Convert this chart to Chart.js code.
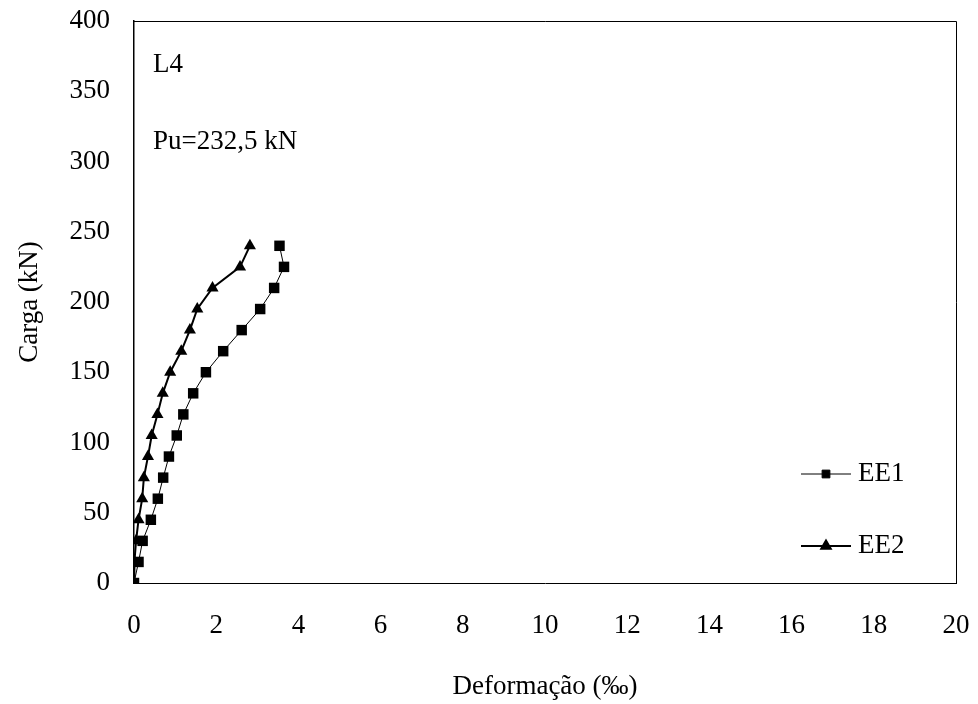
<!DOCTYPE html>
<html>
<head>
<meta charset="utf-8">
<script src="https://cdn.jsdelivr.net/npm/chart.js@4.4.1/dist/chart.umd.min.js"></script>
<style>
  html, body { margin: 0; padding: 0; background: #fff; }
  #wrap { width: 978px; height: 704px; }
</style>
</head>
<body>
<div id="wrap"><canvas id="c" width="978" height="704"></canvas></div>
<script>
// Data
const loads = [0, 15, 30, 45, 60, 75, 90, 105, 120, 135, 150, 165, 180, 195, 210, 225, 240];
const ee1Strain = [0, 0.11, 0.21, 0.41, 0.58, 0.71, 0.85, 1.04, 1.20, 1.44, 1.75, 2.17, 2.62, 3.07, 3.41, 3.65, 3.54];
const ee2Strain = [0, 0.01, 0.05, 0.11, 0.20, 0.24, 0.34, 0.43, 0.57, 0.70, 0.88, 1.15, 1.36, 1.54, 1.91, 2.58, 2.82];
const seriesNames = ['EE1', 'EE2'];
const xTicks = [0, 2, 4, 6, 8, 10, 12, 14, 16, 18, 20];
const yTicks = [0, 50, 100, 150, 200, 250, 300, 350, 400];
const noteLines = ['L4', 'Pu=232,5 kN'];

const FONT = 'Liberation Serif, Times New Roman, serif';
const FS = 27;

function toPoints(xs, ys) { return xs.map((x, i) => ({ x: x, y: ys[i] })); }

const framePlugin = {
  id: 'frame',
  afterDraw(chart) {
    const { ctx, chartArea: a } = chart;
    ctx.save();
    ctx.strokeStyle = '#000';
    ctx.lineWidth = 1;
    ctx.beginPath();
    ctx.moveTo(a.left, a.top + 0.5);
    ctx.lineTo(a.right + 0.5, a.top + 0.5);
    ctx.lineTo(a.right + 0.5, a.bottom);
    ctx.stroke();
    // notes
    ctx.fillStyle = '#000';
    ctx.font = FS + 'px ' + FONT;
    ctx.textBaseline = 'middle';
    ctx.textAlign = 'left';
    ctx.fillText(noteLines[0], a.left + 19, 65);
    ctx.fillText(noteLines[1], a.left + 19, 142);
    // legend
    const items = [
      { y: 474, style: 'rect', r: 5.5, ds: 0 },
      { y: 546, style: 'triangle', r: 5.5, ds: 1 }
    ];
    items.forEach(it => {
      const ds = chart.data.datasets[it.ds];
      ctx.strokeStyle = '#000';
      ctx.lineWidth = ds.borderWidth;
      ctx.beginPath();
      ctx.moveTo(801, it.y);
      ctx.lineTo(851, it.y);
      ctx.stroke();
      Chart.helpers.drawPoint(ctx, { pointStyle: it.style, radius: it.r, borderWidth: 1, rotation: 0 }, 826, it.y);
      ctx.fillStyle = '#000';
      ctx.fillText(seriesNames[it.ds], 858, it.y);
    });
    ctx.restore();
  }
};

new Chart(document.getElementById('c'), {
  type: 'scatter',
  data: {
    datasets: [
      {
        label: seriesNames[0],
        data: toPoints(ee1Strain, loads),
        showLine: true,
        borderColor: '#000',
        backgroundColor: '#000',
        borderWidth: 1,
        pointStyle: 'rect',
        pointRadius: 7.4,
        pointBorderWidth: 0,
        tension: 0
      },
      {
        label: seriesNames[1],
        data: toPoints(ee2Strain, loads),
        showLine: true,
        borderColor: '#000',
        backgroundColor: '#000',
        borderWidth: 2,
        pointStyle: 'triangle',
        pointRadius: 7,
        pointBorderWidth: 0,
        tension: 0
      }
    ]
  },
  options: {
    responsive: false,
    animation: false,
    devicePixelRatio: 1,
    layout: { padding: { top: 21, right: 22, left: 0, bottom: 0 } },
    plugins: { legend: { display: false }, tooltip: { enabled: false } },
    scales: {
      x: {
        type: 'linear',
        min: 0, max: 20,
        afterBuildTicks(s) { s.ticks = xTicks.map(v => ({ value: v })); },
        afterFit(s) { s.height = 121; s.paddingLeft = 0; s.paddingRight = 0; },
        grid: { display: false, drawOnChartArea: false, drawTicks: true, tickLength: 8, tickColor: '#000' },
        border: { display: true, color: '#000', width: 1 },
        ticks: { color: '#000', font: { family: FONT, size: FS }, padding: 19, maxRotation: 0 },
        title: { display: true, text: 'Deformação (‰)', color: '#000', font: { family: FONT, size: FS }, padding: { top: 0, bottom: 1 } }
      },
      y: {
        type: 'linear',
        min: 0, max: 400,
        afterBuildTicks(s) { s.ticks = yTicks.map(v => ({ value: v })); },
        afterFit(s) { s.width = 134; s.paddingTop = 0; s.paddingBottom = 0; },
        grid: { display: false, drawOnChartArea: false, drawTicks: true, tickLength: 8, tickColor: '#000' },
        border: { display: true, color: '#000', width: 1.5 },
        ticks: { color: '#000', font: { family: FONT, size: FS }, padding: 16 },
        title: { display: true, text: 'Carga (kN)', color: '#000', font: { family: FONT, size: FS }, padding: { top: 14, bottom: 0 } }
      }
    }
  },
  plugins: [framePlugin]
});
</script>
</body>
</html>
